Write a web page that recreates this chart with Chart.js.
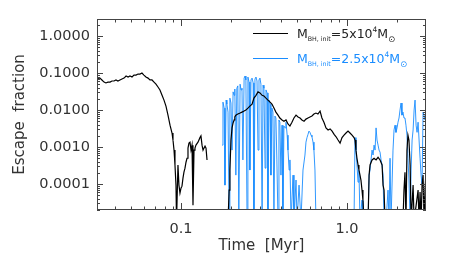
<!DOCTYPE html>
<html>
<head>
<meta charset="utf-8">
<script src="https://cdn.jsdelivr.net/npm/chart.js@4"></script>
<style>
  body { margin: 0; background: #fff; }
  canvas { display: block; }
</style>
</head>
<body>
<canvas id="escChart" width="458" height="270"></canvas>
<script>
// M_BH,init = 5x10^4 Msun (black)
const blackTime = [
  0.0312, 0.0316, 0.0325, 0.0334, 0.0344, 0.0353, 0.0363, 0.0374, 0.0384, 0.0395,
  0.0406, 0.0417, 0.0429, 0.0441, 0.0454, 0.0467, 0.0480, 0.0493, 0.0507, 0.0521,
  0.0536, 0.0551, 0.0566, 0.0582, 0.0598, 0.0615, 0.0633, 0.0650, 0.0669, 0.0688,
  0.0707, 0.0727, 0.0747, 0.0769, 0.0790, 0.0812, 0.0835, 0.0859, 0.0883, 0.0895,
  0.0908, 0.0920, 0.0933, 0.0940, 0.0946, 0.0959, 0.0972, 0.0986, 0.1000, 0.1014,
  0.1028, 0.1042, 0.1057, 0.1072, 0.1087, 0.1102, 0.1117, 0.1133, 0.1149, 0.1165,
  0.1181, 0.1198, 0.1214, 0.1231, 0.1266, 0.1301, 0.1319, 0.1339, 0.1358, 0.1377,
  0.1396, 0.1415, 0.1435, 0.170,
  0.192, 0.195, 0.197, 0.200, 0.203, 0.206, 0.209, 0.211, 0.214, 0.220,
  0.227, 0.233, 0.240, 0.246, 0.253, 0.260, 0.268, 0.275, 0.283, 0.291,
  0.299, 0.308, 0.316, 0.325, 0.334, 0.344, 0.353, 0.363, 0.373, 0.384,
  0.394, 0.406, 0.417, 0.429, 0.441, 0.453, 0.466, 0.479, 0.493, 0.507,
  0.521, 0.535, 0.551, 0.566, 0.582, 0.598, 0.615, 0.632, 0.650, 0.668,
  0.688, 0.706, 0.726, 0.747, 0.769, 0.791, 0.813, 0.836, 0.859, 0.883,
  0.908, 0.933, 0.959, 0.986, 1.014, 1.042, 1.072, 1.102, 1.117, 1.132,
  1.148, 1.165, 1.180, 1.197, 1.213, 1.231, 1.247, 1.266, 1.339, 1.358,
  1.376, 1.415, 1.455, 1.496, 1.538, 1.581, 1.626, 1.648, 1.671, 1.694,
  2.173, 2.203, 2.234, 2.265, 2.296, 2.328, 2.360, 2.399, 2.432, 2.500,
  2.535, 2.679, 2.716, 2.754, 2.793, 2.831, 2.871, 2.911, 2.951, 2.992
];
const blackFrac = [
  0.069, 0.073, 0.073, 0.065, 0.057, 0.054, 0.057, 0.057, 0.061, 0.061,
  0.065, 0.061, 0.065, 0.069, 0.073, 0.083, 0.078, 0.083, 0.078, 0.088,
  0.088, 0.094, 0.094, 0.100, 0.088, 0.078, 0.073, 0.065, 0.065, 0.057,
  0.050, 0.042, 0.035, 0.025, 0.0186, 0.0128, 0.0073, 0.0039, 0.0024, 0.00155,
  0.00083, 0.00033, 0.000094, 1e-5, 1e-5, 0.00033, 0.000094, 0.000057, 0.000078, 0.000088,
  0.000145, 0.00021, 0.00027, 0.00039, 0.0005, 0.00094, 0.00128, 0.00136, 0.00083, 0.00113,
  0.000027, 0.00083, 0.00094, 0.00113, 0.00136, 0.0018, 0.0020, 0.00113, 0.00083, 0.00094,
  0.00106, 0.00094, 0.00045, null,
  1e-5, 0.000069, 0.00024, 0.00155, 0.0033, 0.0045, 0.0054, 0.0065, 0.0073, 0.0078,
  0.0083, 0.0088, 0.0094, 0.0100, 0.0113, 0.0128, 0.0145, 0.021, 0.025, 0.031,
  0.029, 0.025, 0.024, 0.021, 0.0186, 0.0164, 0.0145, 0.0113, 0.0088, 0.0073,
  0.0061, 0.0054, 0.0050, 0.0054, 0.0042, 0.0037, 0.0047, 0.0061, 0.0073, 0.0065,
  0.0061, 0.0054, 0.0050, 0.0057, 0.0061, 0.0065, 0.0069, 0.0078, 0.0083, 0.0078,
  0.0094, 0.0061, 0.0047, 0.0033, 0.0029, 0.0031, 0.0027, 0.0022, 0.0019, 0.00155,
  0.00128, 0.0018, 0.0021, 0.0024, 0.0027, 0.0024, 0.0021, 0.0018, 0.00155, 0.00083,
  0.0005, 0.00033, 0.00024, 0.000175, 0.000129, 0.000069, 0.000037, 1e-5, 1e-5, 0.000175,
  0.00033, 0.00045, 0.0005, 0.00045, 0.00053, 0.00045, 0.00033, 0.000094, 0.000069, 1e-5,
  1e-5, 0.000069, 0.00021, 1e-5, 0.00083, 0.0021, 0.00155, 0.00033, 1e-5, 0.000094,
  1e-5, 0.000069, 1e-5, 0.000061, 1e-5, 0.000094, 0.000175, 1e-5, 0.000069, 0.00024
];

// M_BH,init = 2.5x10^4 Msun (blue)
const blueTime = [
  0.177, 0.179, 0.182, 0.184, 0.187, 0.189, 0.192, 0.195, 0.197, 0.200,
  0.203, 0.206, 0.209, 0.211, 0.214, 0.217, 0.220, 0.223, 0.227, 0.230,
  0.233, 0.236, 0.240, 0.243, 0.246, 0.250, 0.253, 0.257, 0.260, 0.264,
  0.268, 0.272, 0.275, 0.279, 0.283, 0.287, 0.291, 0.295, 0.299, 0.303,
  0.308, 0.312, 0.316, 0.321, 0.325, 0.330, 0.334, 0.339, 0.344, 0.348,
  0.353, 0.358, 0.363, 0.368, 0.373, 0.378, 0.384, 0.389, 0.394, 0.400,
  0.406, 0.411, 0.417, 0.424, 0.429, 0.436, 0.441, 0.448, 0.453, 0.460,
  0.473, 0.479, 0.493, 0.500, 0.514, 0.528, 0.543, 0.558, 0.566, 0.574,
  0.582, 0.590, 0.598, 0.607, 0.615, 0.624, 0.632, 0.641, 0.650, 1.102,
  1.117, 1.132, 1.148, 1.165, 1.180, 1.197, 1.231, 1.247, 1.339, 1.358,
  1.376, 1.395, 1.415, 1.435, 1.455, 1.475, 1.496, 1.516, 1.538, 1.559,
  1.581, 1.603, 1.626, 1.648, 1.671, 1.718, 1.766, 1.791, 1.816, 1.841,
  1.892, 1.919, 1.946, 1.972, 2.001, 2.028, 2.057, 2.085, 2.115, 2.143,
  2.173, 2.203, 2.234, 2.265, 2.296, 2.328, 2.360, 2.399, 2.432, 2.466,
  2.500, 2.535, 2.569, 2.606, 2.642, 2.679, 2.716, 2.754, 2.793, 2.831,
  2.871, 2.911, 2.951, 2.992
];
const blueFrac = [
  0.00113, 0.0164, 0.0113, 0.000094, 0.0186, 0.0145, 0.0088, 1e-5, 0.021, 0.0155,
  0.00083, 0.031, 0.025, 0.037, 0.000175, 0.039, 0.045, 1e-5, 0.050, 0.035,
  0.039, 0.00045, 0.073, 0.083, 0.065, 1e-5, 0.078, 0.057, 0.00024, 0.065,
  0.073, 0.054, 1e-5, 0.069, 0.078, 0.061, 0.00083, 0.065, 0.073, 0.050,
  1e-5, 0.047, 0.039, 0.00027, 0.035, 0.029, 1e-5, 0.0186, 0.0145, 0.000175,
  0.0113, 0.0088, 1e-5, 0.0069, 0.0061, 0.00045, 1e-5, 0.0054, 0.0047, 0.000175,
  0.0039, 1e-5, 0.0037, 0.0033, 0.0047, 0.0021, 0.00083, 0.00024, 0.00045, 1e-5,
  0.000175, 1e-5, 0.000129, 1e-5, 0.000094, 1e-5, 0.00024, 0.00061, 0.00136, 0.0018,
  0.0022, 0.0027, 0.0025, 0.0021, 0.0019, 0.00136, 0.00083, 0.00024, 1e-5, 1e-5,
  0.0018, 0.00083, 0.00033, 0.000113, 0.00024, 1e-5, 0.000037, 1e-5, 1e-5, 0.000175,
  0.00024, 0.00045, 0.00083, 0.00061, 0.00113, 0.00083, 0.0033, 0.00155, 0.00113, 0.00083,
  0.00073, 0.00045, 0.00033, 0.000175, 1e-5, 1e-5, 0.000069, 1e-5, 0.0005, 1e-5,
  0.00083, 0.0029, 0.0039, 0.0025, 0.0033, 0.0047, 0.0061, 0.0100, 0.0155, 0.0073,
  0.0088, 0.0061, 0.0061, 0.0039, 0.0021, 0.0005, 0.000129, 1e-5, 0.00024, 0.00155,
  0.0029, 0.0100, 0.0186, 0.0039, 0.0025, 0.0047, 0.00155, 0.0005, 0.000175, 0.000094,
  0.0088, 0.0073, 0.0054, 0.0100
];

const yLabelTicks = [1, 0.1, 0.01, 0.001, 0.0001];
const xLabelTicks = [0.1, 1];
const legendMass = ['5', '2.5'];
const seriesColors = ['#000000', 'rgb(25,140,255)'];

const isDecade = v => Math.abs(Math.log10(v) - Math.round(Math.log10(v))) < 1e-9;

// IDL style box with inward ticks on all four sides, axis titles and legend
const idlFrame = {
  id: 'idlFrame',
  afterDraw(chart) {
    const { ctx, chartArea: a, scales: { x, y } } = chart;
    ctx.save();
    ctx.strokeStyle = '#444';
    ctx.lineWidth = 1;
    ctx.strokeRect(a.left + 0.5, a.top + 0.5, a.right - a.left - 1, a.bottom - a.top - 1);

    ctx.beginPath();
    for (let d = 0.01; d < 10; d *= 10) {
      for (let m = 1; m <= 9; m++) {
        const v = m * d;
        if (v < x.min || v > x.max) continue;
        const px = Math.round(x.getPixelForValue(v)) + 0.5;
        const len = m === 1 ? 7 : 3.5;
        ctx.moveTo(px, a.bottom); ctx.lineTo(px, a.bottom - len);
        ctx.moveTo(px, a.top); ctx.lineTo(px, a.top + len);
      }
    }
    for (let d = 1e-5; d < 10; d *= 10) {
      for (let m = 1; m <= 9; m++) {
        const v = m * d;
        if (v < y.min || v > y.max) continue;
        const py = Math.round(y.getPixelForValue(v)) + 0.5;
        const len = m === 1 ? 6 : 3;
        ctx.moveTo(a.left, py); ctx.lineTo(a.left + len, py);
        ctx.moveTo(a.right, py); ctx.lineTo(a.right - len, py);
      }
    }
    ctx.stroke();

    // axis titles
    ctx.fillStyle = '#333';
    ctx.font = '15px "DejaVu Sans"';
    ctx.textAlign = 'center';
    ctx.textBaseline = 'middle';
    ctx.fillText('Time  [Myr]', (a.left + a.right) / 2, 246);
    ctx.save();
    ctx.translate(20, (a.top + a.bottom) / 2);
    ctx.rotate(-Math.PI / 2);
    ctx.fillText('Escape  fraction', 0, 0);
    ctx.restore();

    // legend
    ctx.textAlign = 'left';
    ctx.textBaseline = 'alphabetic';
    legendMass.forEach((mass, i) => {
      const base = 38 + i * 25;
      ctx.strokeStyle = seriesColors[i];
      ctx.beginPath();
      ctx.moveTo(a.left + 156, base - 4.5);
      ctx.lineTo(a.left + 191, base - 4.5);
      ctx.stroke();
      ctx.fillStyle = i === 0 ? '#222' : seriesColors[i];
      let cx = a.left + 200;
      const part = (txt, size, dy) => {
        ctx.font = size + 'px "DejaVu Sans"';
        ctx.fillText(txt, cx, base + dy);
        cx += ctx.measureText(txt).width;
      };
      part('M', 12.5, 0);
      part('BH, init', 6.3, 3);
      part('=' + mass + 'x10', 12.5, 0);
      part('4', 7.5, -6);
      part('M', 12.5, 0);
      part('\u2299', 8.5, 4);
    });
    ctx.restore();
  }
};

const ctx = document.getElementById('escChart').getContext('2d');
const escChart = new Chart(ctx, {
  type: 'line',
  data: {
    datasets: [{
      label: 'M_BH,init=5x10^4 Msun',
      data: blackTime.map((t, i) => ({ x: t, y: blackFrac[i] })),
      borderColor: seriesColors[0],
      borderWidth: 1.2,
      pointRadius: 0,
      spanGaps: false,
      fill: false,
      order: 0
    }, {
      label: 'M_BH,init=2.5x10^4 Msun',
      data: blueTime.map((t, i) => ({ x: t, y: blueFrac[i] })),
      borderColor: seriesColors[1],
      borderWidth: 0.9,
      pointRadius: 0,
      fill: false,
      order: 1
    }]
  },
  options: {
    responsive: false,
    animation: false,
    layout: { padding: { top: 19, right: 32, left: 0, bottom: 0 } },
    plugins: { legend: { display: false }, tooltip: { enabled: false } },
    scales: {
      x: {
        type: 'logarithmic',
        min: 0.0312,
        max: 2.99,
        afterFit: s => { s.height = 60; },
        grid: { display: false, drawTicks: false },
        border: { display: false },
        ticks: {
          autoSkip: false,
          maxRotation: 0,
          padding: 11,
          color: '#333',
          font: { family: 'DejaVu Sans', size: 14.5 },
          callback: v => (xLabelTicks.includes(+v.toPrecision(6)) ? v.toFixed(1) : '')
        }
      },
      y: {
        type: 'logarithmic',
        min: 2.0e-5,
        max: 2.88,
        afterFit: s => { s.width = 97; },
        grid: { display: false, drawTicks: false },
        border: { display: false },
        ticks: {
          autoSkip: false,
          padding: 7,
          color: '#333',
          font: { family: 'DejaVu Sans', size: 14.5 },
          callback: v => (isDecade(v) && yLabelTicks.includes(+v.toPrecision(6)) ? v.toFixed(4) : '')
        }
      }
    }
  },
  plugins: [idlFrame]
});
</script>
</body>
</html>
